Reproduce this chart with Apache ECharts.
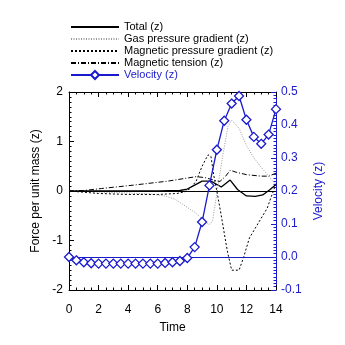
<!DOCTYPE html>
<html>
<head>
<meta charset="utf-8">
<script src="https://cdn.jsdelivr.net/npm/echarts@6/dist/echarts.min.js"></script>
<style>
  html, body { margin: 0; padding: 0; background: #fff; }
  #chart { width: 345px; height: 345px; }
</style>
</head>
<body>
<div id="chart"></div>
<script>
"use strict";

// tick labels
const timeTicks = [0, 2, 4, 6, 8, 10, 12, 14];

// velocity samples, every 0.5 in time
const velTime = [0, 0.5, 1, 1.5, 2, 2.5, 3, 3.5, 4, 4.5, 5, 5.5, 6, 6.5, 7,
                 7.5, 8, 8.5, 9, 9.5, 10, 10.5, 11, 11.5, 12, 12.5, 13, 13.5, 14];
const velocity = [0.0, -0.01, -0.016, -0.019, -0.02, -0.02, -0.02, -0.02, -0.02, -0.02,
                  -0.02, -0.02, -0.02, -0.018, -0.016, -0.012, -0.003, 0.03, 0.106, 0.217,
                  0.325, 0.413, 0.465, 0.488, 0.416, 0.364, 0.343, 0.371, 0.448];

// force curves, [time, value]
const total = [[0, 0], [6, 0.0], [7.5, 0.01], [8, 0.04], [8.5, 0.12], [9, 0.2], [9.6, 0.2],
               [10.3, 0.08], [10.9, 0.22], [11.4, 0.03], [12, -0.1], [12.6, -0.11],
               [13.1, -0.08], [13.6, 0.03], [14, 0.13]];
const gasPressure = [[0, 0], [2, -0.02], [4, -0.04], [5.5, -0.06], [6.5, -0.1], [7.2, -0.17],
                     [7.6, -0.25], [8, -0.33], [8.6, -0.45], [9.1, -0.6], [9.45, -0.68],
                     [9.7, -0.62], [10, -0.05], [10.4, 0.72], [10.75, 1.3], [11, 1.43],
                     [11.5, 1.27], [12, 0.92], [12.5, 0.67], [13, 0.48], [13.5, 0.3], [14, 0.12]];
const magPressure = [[0, 0], [2, -0.05], [4, -0.07], [6, -0.07], [7.3, -0.05], [7.8, -0.02],
                     [8.2, 0.05], [8.6, 0.2], [9, 0.5], [9.4, 0.73], [9.6, 0.7], [9.8, 0.3],
                     [10, 0.0], [10.3, -0.5], [10.7, -1.2], [11, -1.6], [11.5, -1.6],
                     [11.8, -1.35], [12.2, -0.95], [12.8, -0.65], [13.4, -0.35], [14, 0.15]];
const magTension = [[0, 0], [1, 0.01], [2.2, 0.05], [4.4, 0.12], [6.7, 0.2], [8.6, 0.29],
                    [9.2, 0.27], [9.8, 0.22], [10.2, 0.19], [10.6, 0.3], [10.9, 0.42],
                    [11.3, 0.38], [12, 0.33], [13, 0.3], [13.5, 0.3], [14, 0.36]];

const blue = '#1a1acd';
const font = 'Liberation Sans';

var myChart = echarts.init(document.getElementById('chart'));

// eje x comun (abajo con etiquetas, arriba solo ticks)
const xBase = {
    type: 'value',
    min: 0,
    max: 14,
    interval: 2,
    axisLine: { show: true, onZero: false, lineStyle: { color: '#000', width: 1 } },
    axisTick: { show: true, inside: true, length: 5, lineStyle: { color: '#000' } },
    minorTick: { show: true, splitNumber: 4, length: 2.5, lineStyle: { color: '#000' } },
    splitLine: { show: false }
};

// sin simbolo en la leyenda para las fuerzas
const noSymbol = { opacity: 0 };

var option = {
    animation: false,
    textStyle: { fontFamily: font },
    legend: {
        orient: 'vertical',
        left: 70,
        top: 21,
        padding: 0,
        itemWidth: 48,
        itemHeight: 10,
        itemGap: 0,
        textStyle: { fontSize: 11, lineHeight: 12, color: '#000', fontFamily: font },
        data: [
            { name: 'Total (z)', itemStyle: noSymbol },
            { name: 'Gas pressure gradient (z)', itemStyle: noSymbol },
            { name: 'Magnetic pressure gradient (z)', itemStyle: noSymbol },
            { name: 'Magnetic tension (z)', itemStyle: noSymbol },
            { name: 'Velocity (z)', textStyle: { color: blue } }
        ]
    },
    grid: { left: 69, right: 69, top: 92, bottom: 55 },
    xAxis: [
        Object.assign({}, xBase, {
            position: 'bottom',
            name: 'Time',
            nameLocation: 'middle',
            nameGap: 32,
            nameTextStyle: { fontSize: 12, color: '#000' },
            axisLabel: { fontSize: 12, color: '#000', margin: 14, customValues: timeTicks }
        }),
        Object.assign({}, xBase, {
            position: 'top',
            axisLabel: { show: false }
        })
    ],
    yAxis: [
        {
            type: 'value',
            min: -2,
            max: 2,
            interval: 1,
            position: 'left',
            name: 'Force per unit mass (z)',
            nameLocation: 'middle',
            nameGap: 23,
            nameTextStyle: { fontSize: 12, color: '#000' },
            axisLine: { show: true, onZero: false, lineStyle: { color: '#000' } },
            axisTick: { show: true, inside: true, length: 5, lineStyle: { color: '#000' } },
            minorTick: { show: true, splitNumber: 10, length: 2.5, lineStyle: { color: '#000' } },
            axisLabel: { fontSize: 12, color: '#000', margin: 6 },
            splitLine: { show: false }
        },
        {
            type: 'value',
            min: -0.1,
            max: 0.5,
            interval: 0.1,
            position: 'right',
            name: 'Velocity (z)',
            nameLocation: 'middle',
            nameGap: 26,
            nameTextStyle: { fontSize: 12, color: blue },
            axisLine: { show: true, onZero: false, lineStyle: { color: blue } },
            axisTick: { show: true, inside: true, length: 5, lineStyle: { color: blue } },
            minorTick: { show: true, splitNumber: 10, length: 2.5, lineStyle: { color: blue } },
            axisLabel: { fontSize: 12, color: blue, margin: 5,
                         formatter: v => v.toFixed(1) },
            splitLine: { show: false }
        }
    ],
    series: [
        {
            name: 'Total (z)',
            type: 'line',
            data: total,
            symbol: 'none',
            lineStyle: { color: '#000', width: 1.3 },
            itemStyle: { color: '#000' },
            markLine: {
                silent: true,
                symbol: 'none',
                label: { show: false },
                lineStyle: { color: '#000', width: 1, type: 'solid' },
                data: [{ yAxis: 0 }]
            }
        },
        {
            name: 'Gas pressure gradient (z)',
            type: 'line',
            data: gasPressure,
            symbol: 'none',
            lineStyle: { color: '#999', width: 1, type: [1, 1.5] },
            itemStyle: { color: '#999' }
        },
        {
            name: 'Magnetic pressure gradient (z)',
            type: 'line',
            data: magPressure,
            symbol: 'none',
            lineStyle: { color: '#000', width: 1, type: [2, 2] },
            itemStyle: { color: '#000' }
        },
        {
            name: 'Magnetic tension (z)',
            type: 'line',
            data: magTension,
            symbol: 'none',
            lineStyle: { color: '#000', width: 1, type: [5, 2, 1, 2] },
            itemStyle: { color: '#000' }
        },
        {
            name: 'Velocity (z)',
            type: 'line',
            yAxisIndex: 1,
            data: velTime.map((t, i) => [t, velocity[i]]),
            symbol: 'diamond',
            symbolSize: 9,
            lineStyle: { color: blue, width: 1.3 },
            itemStyle: { color: '#fff', borderColor: blue, borderWidth: 1.3 },
            z: 5,
            markLine: {
                silent: true,
                symbol: 'none',
                label: { show: false },
                lineStyle: { color: blue, width: 1.2, type: 'solid', opacity: 1 },
                data: [{ yAxis: 0 }]
            }
        }
    ]
};

myChart.setOption(option);
</script>
</body>
</html>
